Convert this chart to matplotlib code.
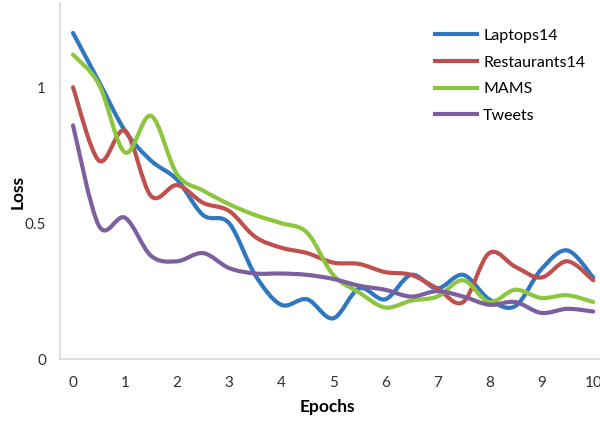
import matplotlib
matplotlib.use("Agg")
import matplotlib.pyplot as plt
from matplotlib.path import Path
from matplotlib.patches import PathPatch
from matplotlib.lines import Line2D

epochs = [0, 0.5, 1, 1.5, 2, 2.5, 3, 3.5, 4, 4.5, 5,
          5.5, 6, 6.5, 7, 7.5, 8, 8.5, 9, 9.5, 10]

laptops14 = [1.20, 1.02, 0.84, 0.73, 0.66, 0.53, 0.50, 0.31, 0.20, 0.22, 0.15,
             0.26, 0.22, 0.31, 0.26, 0.31, 0.22, 0.195, 0.33, 0.40, 0.30]
restaurants14 = [1.00, 0.73, 0.84, 0.60, 0.64, 0.575, 0.545, 0.45, 0.41, 0.39, 0.355,
                 0.35, 0.32, 0.31, 0.26, 0.21, 0.39, 0.34, 0.30, 0.36, 0.29]
mams = [1.12, 1.01, 0.76, 0.895, 0.68, 0.62, 0.57, 0.53, 0.50, 0.465, 0.31,
        0.245, 0.19, 0.215, 0.23, 0.29, 0.21, 0.255, 0.225, 0.235, 0.21]
tweets = [0.86, 0.49, 0.52, 0.38, 0.36, 0.39, 0.335, 0.315, 0.315, 0.31, 0.295,
          0.27, 0.255, 0.23, 0.25, 0.23, 0.20, 0.21, 0.17, 0.185, 0.175]

series = [("Laptops14", laptops14, "#3077C1"),
          ("Restaurants14", restaurants14, "#C0504D"),
          ("MAMS", mams, "#8CC63E"),
          ("Tweets", tweets, "#7D5FA0")]

xticks = list(range(0, 11))
yticks = [0, 0.5, 1]
ytick_labels = ["0", "0.5", "1"]

plt.rcParams['font.family'] = ['Lato', 'DejaVu Sans']


def smooth_path(xs, ys):
    """Excel style smoothed line: cubic bezier through every point."""
    verts = [(xs[0], ys[0])]
    codes = [Path.MOVETO]
    n = len(xs)
    for i in range(n - 1):
        x0, y0 = (xs[i - 1], ys[i - 1]) if i > 0 else (xs[i], ys[i])
        x1, y1 = xs[i], ys[i]
        x2, y2 = xs[i + 1], ys[i + 1]
        x3, y3 = (xs[i + 2], ys[i + 2]) if i + 2 < n else (x2, y2)
        c1 = (x1 + (x2 - x0) / 6, y1 + (y2 - y0) / 6)
        c2 = (x2 - (x3 - x1) / 6, y2 - (y3 - y1) / 6)
        verts += [c1, c2, (x2, y2)]
        codes += [Path.CURVE4] * 3
    return Path(verts, codes)


fig = plt.figure(figsize=(6, 4.25), dpi=100)
ax = fig.add_axes([0.1, 0.155, 0.9, 0.838])

handles = []
for name, vals, color in series:
    patch = PathPatch(smooth_path(epochs, vals), facecolor="none",
                      edgecolor=color, lw=3, capstyle="round", joinstyle="round")
    ax.add_patch(patch)
    handles.append(Line2D([], [], color=color, lw=3, label=name))

ax.set_xlim(-0.25, 10.13)
ax.set_ylim(0, 1.31)
ax.set_xticks(xticks)
ax.set_yticks(yticks)
ax.set_yticklabels(ytick_labels)
ax.tick_params(length=0, labelsize=11, colors="#303030")
ax.tick_params(axis="x", pad=12)
ax.tick_params(axis="y", pad=10)

for side in ["top", "right"]:
    ax.spines[side].set_visible(False)
for side in ["left", "bottom"]:
    ax.spines[side].set_color("#d9d9d9")
    ax.spines[side].set_linewidth(1.2)

fig.text(0.545, 0.042, "Epochs", ha="center", va="center",
         fontsize=12.5, fontweight="bold")
fig.text(0.03, 0.548, "Loss", ha="center", va="center", rotation=90,
         fontsize=12.5, fontweight="bold")

ax.legend(handles=handles, loc="upper left", bbox_to_anchor=(0.668, 0.968),
          frameon=False, fontsize=11.5, handlelength=2.6, labelspacing=0.78,
          handletextpad=0.4)

fig.savefig("out.png", dpi=100)
